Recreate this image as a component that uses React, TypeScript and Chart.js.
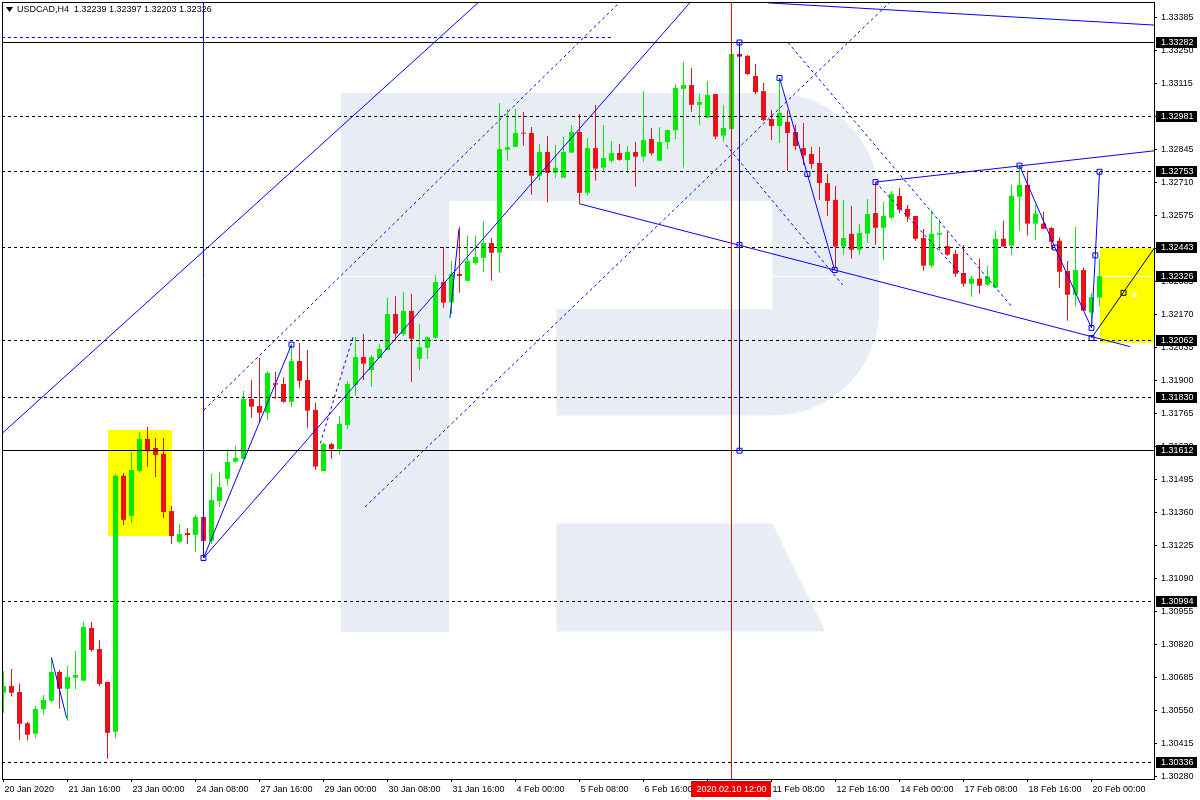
import React, { useEffect, useRef } from "react";
import { Chart, registerables } from "chart.js";

Chart.register(...registerables);

// ---------- header ----------
const headerText = "USDCAD,H4  1.32239 1.32397 1.32203 1.32326";

// ---------- candles (H4, index 0 = 20 Jan 2020 08:00) ----------
const opens = [
  1.30622, 1.30649, 1.30625, 1.30497, 1.30454, 1.30554, 1.30589, 1.30707, 1.30638, 1.30683,
  1.30671, 1.30887, 1.30801, 1.30666, 1.30462, 1.31509, 1.31345, 1.31529, 1.3166, 1.31623,
  1.31599, 1.31365, 1.31239, 1.31275, 1.31267, 1.31341, 1.31243, 1.31406, 1.31497, 1.31567,
  1.31579, 1.31824, 1.31795, 1.31767, 1.31888, 1.31885, 1.31812, 1.31979, 1.31901, 1.31779,
  1.31529, 1.31639, 1.31619, 1.31717, 1.31881, 1.31995, 1.31942, 1.31991, 1.32024, 1.32171,
  1.32089, 1.32184, 1.31988, 1.32033, 1.32074, 1.32302, 1.32218, 1.32335, 1.32307, 1.3238,
  1.32401, 1.32462, 1.32422, 1.32843, 1.32855, 1.32913, 1.32912, 1.32737, 1.32834, 1.32749,
  1.32729, 1.32831, 1.32916, 1.32667, 1.3285, 1.3277, 1.32798, 1.3283, 1.32801, 1.32834,
  1.32815, 1.32887, 1.32798, 1.32874, 1.32923, 1.33092, 1.33108, 1.33027, 1.32974, 1.33071,
  1.32901, 1.32928, 1.33235, 1.33227, 1.33145, 1.33083, 1.32969, 1.3294, 1.32957, 1.32916,
  1.3285, 1.32826, 1.32789, 1.32707, 1.32638, 1.32447, 1.32499, 1.32434, 1.325, 1.32584,
  1.32524, 1.32565, 1.32654, 1.32601, 1.32572, 1.32482, 1.32369, 1.32496, 1.32449, 1.32417,
  1.32339, 1.32295, 1.32316, 1.32291, 1.32279, 1.32479, 1.32451, 1.32651, 1.327, 1.32541,
  1.32541, 1.32523, 1.32471, 1.32347, 1.3225, 1.32351, 1.32177, 1.32239,
];
const highs = [
  1.30711, 1.30719, 1.3066, 1.30502, 1.30568, 1.30613, 1.30767, 1.30715, 1.30731, 1.30793,
  1.30911, 1.30911, 1.30838, 1.30666, 1.31517, 1.31521, 1.31607, 1.31688, 1.31709, 1.31664,
  1.31664, 1.31386, 1.31312, 1.31296, 1.31349, 1.31419, 1.31517, 1.31525, 1.31619, 1.3163,
  1.31856, 1.31901, 1.31991, 1.31937, 1.31934, 1.31912, 1.32046, 1.32053, 1.32024, 1.31808,
  1.31646, 1.31645, 1.31754, 1.31897, 1.32077, 1.32089, 1.32003, 1.32049, 1.32238, 1.32245,
  1.32261, 1.32253, 1.3213, 1.32078, 1.32331, 1.32445, 1.32388, 1.32527, 1.32492, 1.32492,
  1.32552, 1.32482, 1.33034, 1.3301, 1.3301, 1.32998, 1.32936, 1.32867, 1.32899, 1.32863,
  1.32895, 1.32944, 1.32989, 1.32891, 1.33026, 1.32944, 1.32879, 1.32867, 1.32859, 1.32876,
  1.33083, 1.32932, 1.32935, 1.32924, 1.33113, 1.33202, 1.33178, 1.33071, 1.33124, 1.33071,
  1.33026, 1.33235, 1.33282, 1.33231, 1.33194, 1.33116, 1.33006, 1.33137, 1.33006, 1.32944,
  1.32953, 1.32854, 1.32854, 1.32744, 1.32695, 1.32638, 1.32613, 1.32539, 1.32642, 1.32711,
  1.32629, 1.32674, 1.32687, 1.32617, 1.32572, 1.32519, 1.32597, 1.3256, 1.32507, 1.32433,
  1.32454, 1.32328, 1.32397, 1.32368, 1.32512, 1.32553, 1.327, 1.32778, 1.32757, 1.32618,
  1.32588, 1.32528, 1.32485, 1.32388, 1.32528, 1.32361, 1.32258, 1.32397,
];
const lows = [
  1.3054, 1.30606, 1.30428, 1.30426, 1.30438, 1.30534, 1.30584, 1.30557, 1.30507, 1.30636,
  1.30671, 1.30789, 1.30649, 1.30352, 1.30438, 1.31308, 1.31316, 1.31525, 1.31545, 1.31504,
  1.31337, 1.3123, 1.31234, 1.3123, 1.31198, 1.31173, 1.3123, 1.31383, 1.31469, 1.31563,
  1.31579, 1.31747, 1.31727, 1.31739, 1.31825, 1.31808, 1.31792, 1.3187, 1.31706, 1.31533,
  1.31529, 1.31579, 1.31594, 1.31702, 1.31837, 1.31901, 1.31874, 1.31991, 1.32024, 1.32062,
  1.32081, 1.31894, 1.31942, 1.31988, 1.32071, 1.32197, 1.32171, 1.32258, 1.32307, 1.32372,
  1.32344, 1.32307, 1.3234, 1.32798, 1.32855, 1.3286, 1.32659, 1.32717, 1.32627, 1.32729,
  1.32729, 1.32831, 1.32622, 1.32655, 1.32717, 1.32757, 1.3279, 1.32798, 1.32747, 1.32692,
  1.32794, 1.3282, 1.32798, 1.32845, 1.32886, 1.32771, 1.32999, 1.32944, 1.32974, 1.32886,
  1.32876, 1.32928, 1.33116, 1.33149, 1.33071, 1.32961, 1.32883, 1.32872, 1.32757, 1.32842,
  1.32781, 1.32764, 1.32638, 1.32572, 1.32358, 1.32413, 1.32397, 1.32414, 1.32463, 1.32455,
  1.32393, 1.32561, 1.32583, 1.32549, 1.32471, 1.32348, 1.32361, 1.3243, 1.3241, 1.32324,
  1.32283, 1.32242, 1.32254, 1.32287, 1.32279, 1.32447, 1.32414, 1.32512, 1.32492, 1.32475,
  1.32518, 1.32436, 1.32279, 1.32144, 1.32205, 1.32184, 1.32119, 1.32203,
];
const closes = [
  1.30649, 1.30622, 1.30495, 1.3045, 1.30555, 1.30592, 1.30707, 1.30638, 1.30686, 1.30694,
  1.30891, 1.30797, 1.30658, 1.30458, 1.31509, 1.31329, 1.31533, 1.3166, 1.31615, 1.31594,
  1.31361, 1.31263, 1.31271, 1.31267, 1.31341, 1.31243, 1.3141, 1.31463, 1.31566, 1.31582,
  1.31824, 1.31792, 1.31767, 1.3193, 1.31882, 1.31812, 1.31979, 1.31898, 1.31776, 1.31547,
  1.31639, 1.31619, 1.31721, 1.31885, 1.31995, 1.31968, 1.31995, 1.32028, 1.32171, 1.32091,
  1.32184, 1.3207, 1.32035, 1.32076, 1.32302, 1.32218, 1.32335, 1.32327, 1.32388, 1.32404,
  1.32462, 1.32422, 1.32846, 1.32854, 1.32912, 1.32909, 1.32737, 1.32834, 1.32749, 1.32769,
  1.32834, 1.32916, 1.32667, 1.3285, 1.32766, 1.32809, 1.3283, 1.32802, 1.32834, 1.32815,
  1.32883, 1.32829, 1.32875, 1.32924, 1.33096, 1.33108, 1.33027, 1.33039, 1.33067, 1.32897,
  1.32932, 1.33235, 1.33224, 1.33153, 1.33079, 1.32965, 1.3294, 1.32994, 1.32912, 1.32858,
  1.3282, 1.32785, 1.32707, 1.32634, 1.32447, 1.32482, 1.32434, 1.32503, 1.3258, 1.32524,
  1.32572, 1.32662, 1.32598, 1.32569, 1.32479, 1.32369, 1.32499, 1.32503, 1.32414, 1.32336,
  1.32295, 1.32316, 1.32287, 1.32324, 1.32479, 1.32447, 1.32655, 1.327, 1.32541, 1.32582,
  1.3252, 1.32467, 1.32344, 1.3225, 1.32351, 1.32185, 1.32241, 1.32326,
];

// ---------- axes ----------
const priceMin = 1.302689;
const priceMax = 1.334476;
const indexMin = -0.1875;
const indexMax = 143.8125;

const yTickValues = [
  1.33385, 1.3325, 1.33115, 1.3298, 1.32845, 1.3271, 1.32575, 1.3244, 1.32305, 1.3217,
  1.32035, 1.319, 1.31765, 1.3163, 1.31495, 1.3136, 1.31225, 1.3109, 1.30955, 1.3082,
  1.30685, 1.3055, 1.30415, 1.3028,
];
const xTickIndex = [0, 8, 16, 24, 32, 40, 48, 56, 64, 72, 80, 88, 96, 104, 112, 120, 128, 136];
const xTickLabels = [
  "20 Jan 2020", "21 Jan 16:00", "23 Jan 00:00", "24 Jan 08:00", "27 Jan 16:00", "29 Jan 00:00",
  "30 Jan 08:00", "31 Jan 16:00", "4 Feb 00:00", "5 Feb 08:00", "6 Feb 16:00", "10 Feb 00:00",
  "11 Feb 08:00", "12 Feb 16:00", "14 Feb 00:00", "17 Feb 08:00", "18 Feb 16:00", "20 Feb 00:00",
];

const crosshairIndex = 91;
const crosshairLabel = "2020.02.10 12:00";
const currentPrice = 1.32326;

// ---------- horizontal levels ----------
const dashedLevels = [1.32981, 1.32753, 1.32443, 1.32062, 1.3183, 1.30994, 1.30336];
const solidLevels = [1.33282, 1.31612];
const boxedLevels = [1.33282, 1.32981, 1.32753, 1.32443, 1.32326, 1.32062, 1.3183, 1.31612, 1.30994, 1.30336];
const topBlueDashed = [-0.2, 76.06, 1.33304]; // from index, to index, price

// ---------- rectangles [index1, index2, priceTop, priceBottom] ----------
const yellowBoxes = [
  [13, 21, 1.31697, 1.31264],
  [137, 145, 1.32443, 1.32053],
];

// ---------- vertical segments [index, price1, price2] ----------
const blueVerticals = [
  [25, 1.31173, 1.335],
  [92, 1.33282, 1.31612],
];

// ---------- trend lines (points are [index, price]) ----------
const solidBlueLines = [
  [[-0.2, 1.31682], [61.1, 1.33497]],
  [[25, 1.31173], [87.2, 1.33497]],
  [[72, 1.32622], [140.8, 1.32038]],
  [[109, 1.32711], [145, 1.32843]],
  [[95.6, 1.33444], [145, 1.33351]],
  [[6, 1.30764], [7.9, 1.30518]],
  [[25, 1.31173], [36, 1.32046]],
  [[55.8, 1.32155], [56.94, 1.32519]],
  [[97, 1.33137], [100.48, 1.32744], [103.9, 1.32351]],
  [[127, 1.32778], [131.44, 1.32443], [136, 1.32114], [136.48, 1.32411], [137, 1.32753]],
];
const dashedBlueLines = [
  [[25.06, 1.31779], [78.6, 1.33497]],
  [[45.19, 1.31382], [112.4, 1.33497]],
  [[98.06, 1.33282], [126.06, 1.322]],
  [[90.3, 1.32863], [104.9, 1.3229]],
  [[109, 1.32711], [119.8, 1.3233]],
  [[39.6, 1.31642], [43.7, 1.32078]],
];
const blackLines = [[[136, 1.32073], [143.9, 1.32443]]];

const blueAnchors = [
  [25, 1.31173], [36, 1.32046], [92, 1.33282], [92, 1.32454], [92, 1.31612],
  [97, 1.33137], [100.48, 1.32744], [103.9, 1.32351], [109, 1.32711], [127, 1.32778],
  [131.44, 1.32443], [136, 1.32114], [136, 1.32073], [136.48, 1.32411], [137, 1.32753],
];
const blackAnchors = [[140, 1.32258]];
const whiteAnchors = [[141.4, 1.32249]];

// ---------- styles ----------
const GREEN = "#00ec00";
const RED = "#ec1018";
const BLUE = "#0000ff";
const FONT = '"Liberation Sans", Arial, sans-serif';
const FONT_SIZE = 9;

function drawLogo(ctx: CanvasRenderingContext2D) {
  ctx.fillStyle = "#e8ecf4";
  ctx.beginPath();
  ctx.moveTo(341, 93);
  ctx.lineTo(773, 93);
  ctx.arcTo(879, 93, 879, 199, 106);
  ctx.lineTo(879, 309);
  ctx.arcTo(879, 415.6, 773, 415.6, 106);
  ctx.lineTo(556.5, 415.6);
  ctx.lineTo(556.5, 309);
  ctx.lineTo(772.5, 309);
  ctx.lineTo(772.5, 201);
  ctx.lineTo(449, 201);
  ctx.lineTo(449, 632);
  ctx.lineTo(341, 632);
  ctx.closePath();
  ctx.fill();
  ctx.beginPath();
  ctx.moveTo(556.5, 523.6);
  ctx.lineTo(772.5, 523.6);
  ctx.lineTo(825.3, 631.6);
  ctx.lineTo(556.5, 631.6);
  ctx.closePath();
  ctx.fill();
}

const overlayPlugin = {
  id: "mtOverlay",
  beforeDatasetsDraw(chart: any) {
    const { ctx, chartArea: a, scales } = chart;
    const xs = scales.x;
    const ys = scales.y;
    ctx.save();
    ctx.beginPath();
    ctx.rect(a.left, a.top, a.right - a.left, a.bottom - a.top);
    ctx.clip();
    drawLogo(ctx);
    ctx.fillStyle = "#ffff00";
    for (const [i1, i2, p1, p2] of yellowBoxes) {
      const x1 = Math.round(xs.getPixelForValue(i1));
      const x2 = Math.round(xs.getPixelForValue(i2));
      const y1 = Math.round(ys.getPixelForValue(p1));
      const y2 = Math.round(ys.getPixelForValue(p2));
      ctx.fillRect(x1, y1, x2 - x1, y2 - y1);
    }
    // bid line
    const py = Math.floor(ys.getPixelForValue(currentPrice)) + 0.5;
    ctx.strokeStyle = "#ffffff";
    ctx.lineWidth = 1;
    ctx.beginPath();
    ctx.moveTo(a.left, py);
    ctx.lineTo(a.right, py);
    ctx.stroke();
    ctx.restore();
  },
  afterDatasetsDraw(chart: any) {
    const { ctx, chartArea: a, scales } = chart;
    const xs = scales.x;
    const ys = scales.y;
    ctx.save();
    ctx.beginPath();
    ctx.rect(a.left, a.top, a.right - a.left, a.bottom - a.top);
    ctx.clip();
    ctx.lineWidth = 1;
    const hline = (price: number, x1: number, x2: number, color: string, dash: number[]) => {
      const py = Math.floor(ys.getPixelForValue(price)) + 0.5;
      ctx.strokeStyle = color;
      ctx.setLineDash(dash);
      ctx.beginPath();
      ctx.moveTo(x1, py);
      ctx.lineTo(x2, py);
      ctx.stroke();
    };
    for (const p of dashedLevels) hline(p, a.left, a.right, "#000000", [3, 3]);
    for (const p of solidLevels) hline(p, a.left, a.right, "#000000", []);
    hline(topBlueDashed[2], xs.getPixelForValue(topBlueDashed[0]), xs.getPixelForValue(topBlueDashed[1]), BLUE, [3, 3]);
    ctx.setLineDash([]);
    for (const [i, p1, p2] of blueVerticals) {
      const px = Math.floor(xs.getPixelForValue(i)) + 0.5;
      ctx.strokeStyle = BLUE;
      ctx.beginPath();
      ctx.moveTo(px, ys.getPixelForValue(p1));
      ctx.lineTo(px, ys.getPixelForValue(p2));
      ctx.stroke();
    }
    const cx = Math.floor(xs.getPixelForValue(crosshairIndex)) + 0.5;
    ctx.strokeStyle = "#ff0000";
    ctx.beginPath();
    ctx.moveTo(cx, a.top);
    ctx.lineTo(cx, a.bottom);
    ctx.stroke();
    ctx.restore();
  },
  afterDraw(chart: any) {
    const { ctx, chartArea: a, scales } = chart;
    const xs = scales.x;
    const ys = scales.y;
    ctx.save();
    // frame
    ctx.strokeStyle = "#000000";
    ctx.lineWidth = 1;
    ctx.setLineDash([]);
    ctx.strokeRect(a.left + 0.5, a.top + 0.5, a.right - a.left, a.bottom - a.top);
    ctx.font = `${FONT_SIZE}px ${FONT}`;
    ctx.textBaseline = "middle";
    ctx.textAlign = "left";
    // price boxes
    for (const p of boxedLevels) {
      const py = Math.floor(ys.getPixelForValue(p));
      ctx.fillStyle = "#000000";
      ctx.fillRect(a.right + 2, py - 5, 41, 11);
      ctx.fillStyle = "#ffffff";
      ctx.fillText(p.toFixed(5), a.right + 7, py + 0.5);
    }
    // crosshair time label
    const cx = xs.getPixelForValue(crosshairIndex);
    const tw = ctx.measureText(crosshairLabel).width;
    ctx.fillStyle = "#ee0000";
    ctx.fillRect(Math.round(cx - tw / 2 - 5), a.bottom + 2, Math.round(tw + 10), 16);
    ctx.fillStyle = "#ffffff";
    ctx.textAlign = "center";
    ctx.fillText(crosshairLabel, cx, a.bottom + 10.5);
    // header
    ctx.fillStyle = "#000000";
    ctx.beginPath();
    ctx.moveTo(a.left + 4, a.top + 5);
    ctx.lineTo(a.left + 11, a.top + 5);
    ctx.lineTo(a.left + 7.5, a.top + 10);
    ctx.closePath();
    ctx.fill();
    ctx.textAlign = "left";
    ctx.fillText(headerText, a.left + 15, a.top + 8);
    ctx.restore();
  },
};

export default function App() {
  const ref = useRef<HTMLCanvasElement>(null);
  useEffect(() => {
    document.body.style.margin = "0";
    const canvas = ref.current;
    if (!canvas) return;
    const n = opens.length;
    const idx = Array.from({ length: n }, (_, i) => i);
    const colors = idx.map((i) => (closes[i] >= opens[i] ? GREEN : RED));
    const lineDs = (pts: number[][], color: string, dash: number[]) => ({
      type: "line",
      data: pts.map(([x, y]) => ({ x, y })),
      borderColor: color,
      borderWidth: 1,
      borderDash: dash,
      pointRadius: 0,
      pointHoverRadius: 0,
      fill: false,
      tension: 0,
      order: 5,
    });
    const pointDs = (pts: number[][], color: string, fillColor: string, r: number) => ({
      type: "scatter",
      data: pts.map(([x, y]) => ({ x, y })),
      pointStyle: "rect",
      pointRadius: r,
      pointHoverRadius: r,
      borderColor: color,
      backgroundColor: fillColor,
      pointBorderWidth: 1,
      showLine: false,
      order: 1,
    });
    const datasets: any[] = [
      {
        type: "bar",
        data: idx.map((i) => ({ x: i, y: [lows[i], highs[i]] })),
        backgroundColor: colors,
        maxBarThickness: 1,
        grouped: false,
        borderWidth: 0,
        order: 20,
      },
      {
        type: "bar",
        data: idx.map((i) => ({ x: i, y: [opens[i], closes[i]] })),
        backgroundColor: colors,
        maxBarThickness: 5,
        grouped: false,
        minBarLength: 1,
        borderWidth: 0,
        order: 19,
      },
      ...solidBlueLines.map((l) => lineDs(l, BLUE, [])),
      ...dashedBlueLines.map((l) => lineDs(l, BLUE, [3, 3])),
      ...blackLines.map((l) => lineDs(l, "#000000", [])),
      pointDs(blueAnchors, BLUE, "rgba(255,255,255,0)", 3.5),
      pointDs(blackAnchors, "#000000", "rgba(255,255,255,0)", 3.5),
      pointDs(whiteAnchors, "#ffffff", "#ffffff", 2),
    ];
    const chart = new Chart(canvas, {
      type: "bar",
      data: { datasets },
      options: {
        responsive: false,
        animation: false,
        devicePixelRatio: 1,
        events: [],
        layout: { autoPadding: false, padding: { left: 2, top: 2, right: 0, bottom: 0 } },
        plugins: { legend: { display: false }, tooltip: { enabled: false } },
        scales: {
          x: {
            type: "linear",
            min: indexMin,
            max: indexMax,
            offset: false,
            grid: { display: true, offset: false, drawOnChartArea: false, drawTicks: true, tickLength: 3, color: "#000000" },
            border: { display: false },
            ticks: {
              autoSkip: false,
              maxRotation: 0,
              minRotation: 0,
              align: "start",
              padding: 2,
              labelOffset: 1,
              color: "#000000",
              font: { family: FONT, size: FONT_SIZE },
              callback: (v: any) => {
                const k = xTickIndex.indexOf(Number(v));
                return k >= 0 ? xTickLabels[k] : "";
              },
            },
            afterBuildTicks: (s: any) => {
              s.ticks = xTickIndex.map((v) => ({ value: v }));
            },
            afterFit: (s: any) => {
              s.height = 21;
              s.paddingLeft = 0;
              s.paddingRight = 0;
            },
          },
          y: {
            type: "linear",
            position: "right",
            min: priceMin,
            max: priceMax,
            beginAtZero: false,
            grid: { display: true, drawOnChartArea: false, drawTicks: true, tickLength: 3, color: "#000000" },
            border: { display: false },
            ticks: {
              autoSkip: false,
              padding: 4,
              color: "#000000",
              font: { family: FONT, size: FONT_SIZE },
              callback: (v: any) => Number(v).toFixed(5),
            },
            afterBuildTicks: (s: any) => {
              s.ticks = yTickValues.map((v) => ({ value: v }));
            },
            afterFit: (s: any) => {
              s.width = 46;
              s.paddingTop = 0;
              s.paddingBottom = 0;
            },
          },
        },
      } as any,
      plugins: [overlayPlugin],
    } as any);
    return () => chart.destroy();
  }, []);
  return (
    <div style={{ width: 1200, height: 800, background: "#ffffff" }}>
      <canvas ref={ref} width={1200} height={800} style={{ display: "block" }} />
    </div>
  );
}
